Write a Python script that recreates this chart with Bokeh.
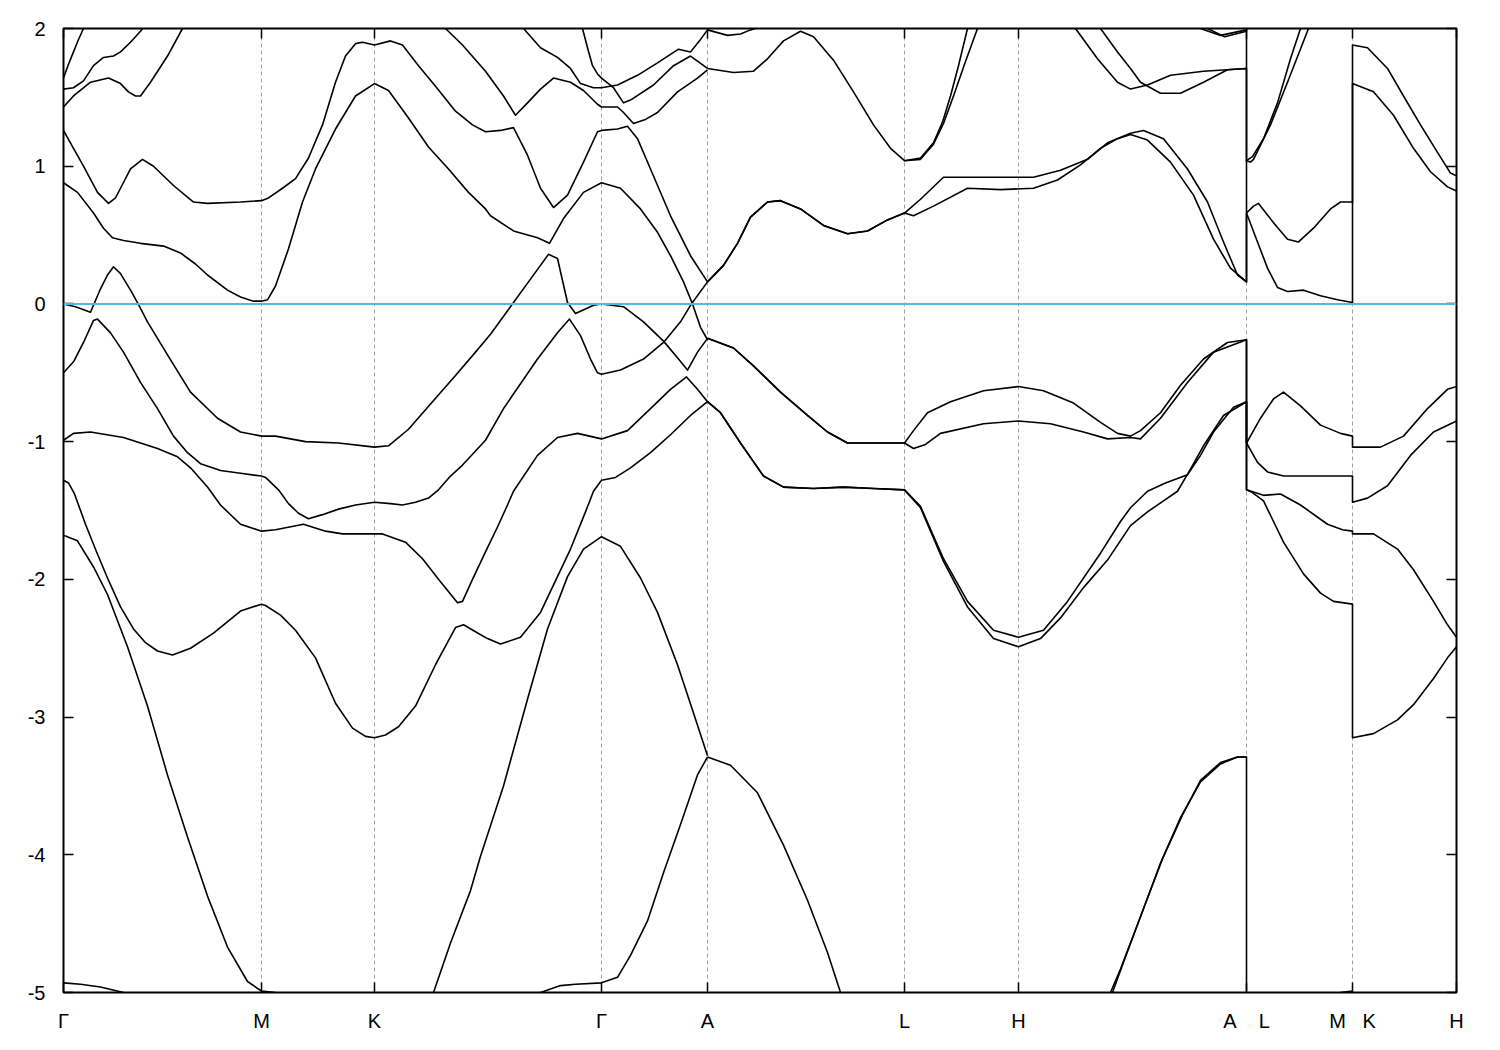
from bokeh.plotting import figure
from bokeh.models import FixedTicker, Span, LinearAxis, Range1d, CustomLabelingPolicy
from bokeh.embed import file_html
from bokeh.resources import INLINE

nan = float("nan")

# ---- axis data -------------------------------------------------------------
kpath_ticks = [0, 198, 311, 538, 644, 841, 955, 1183, 1289, 1393]
kpath_labels = ["Γ", "M", "K", "Γ", "A", "L", "H",
                "A\u00a0\u00a0\u00a0\u00a0L", "M\u00a0\u00a0\u00a0K", "H"]
energy_ticks = [-5, -4, -3, -2, -1, 0, 1, 2]
fermi_level = 0.0

# ---- bands: Gamma-M-K-Gamma-A part -----------------------------------------
k_L1 = [0, 17, 37, 60, nan, 477, 497, 512, 538, 554, 567, 584, 600, 617, 634, 644]
e_L1 = [-4.93, -4.94, -4.96, -5.0, nan, -5.0, -4.95, -4.94, -4.93, -4.89, -4.73, -4.48, -4.13, -3.78, -3.42, -3.29]

k_L2 = [0, 14, 30, 44, 64, 84, 104, 124, 144, 164, 184, 198, 205, 212, nan,
        370, 387, 407, 417, 440, 464, 484, 504, 520, 538, 557, 577, 594, 614, 630, 644]
e_L2 = [-1.68, -1.72, -1.91, -2.11, -2.49, -2.92, -3.42, -3.87, -4.30, -4.67, -4.92, -4.99, -4.995, -5.0, nan,
        -5.0, -4.64, -4.26, -4.01, -3.50, -2.87, -2.36, -1.98, -1.78, -1.69, -1.76, -1.99, -2.24, -2.62, -2.97, -3.28]

k_L3 = [0, 5, 11, 22, 33, 44, 57, 70, 82, 94, 109, 127, 150, 177, 198, 202, 217, 232, 252, 272,
        289, 302, 311, 322, 335, 352, 372, 392, 400, 412, 424, 437, 457, 477, 507, 522, 530, 538, 552, 567,
        587, 607, 627, 644]
e_L3 = [-1.28, -1.30, -1.38, -1.60, -1.80, -1.99, -2.20, -2.36, -2.46, -2.52, -2.55, -2.50, -2.39, -2.23, -2.18, -2.19, -2.26, -2.37, -2.57, -2.90,
        -3.08, -3.14, -3.15, -3.13, -3.07, -2.92, -2.62, -2.35, -2.33, -2.38, -2.43, -2.47, -2.42, -2.24, -1.78, -1.51, -1.36, -1.28, -1.26, -1.19,
        -1.08, -0.95, -0.81, -0.71]

k_L4 = [0, 10, 27, 60, 94, 114, 127, 144, 157, 177, 198, 212, 240, 262, 279, 311, 319, 342, 359, 375,
        394, 399, 409, 422, 434, 444, 450, 474, 494, 514, 538, 564, 587, 607, 623, 634, 644]
e_L4 = [-0.99, -0.94, -0.93, -0.97, -1.05, -1.11, -1.19, -1.33, -1.46, -1.60, -1.65, -1.64, -1.60, -1.65, -1.67, -1.67, -1.67, -1.73, -1.85, -2.00,
        -2.17, -2.16, -2.00, -1.80, -1.62, -1.46, -1.36, -1.10, -0.97, -0.94, -0.98, -0.92, -0.76, -0.62, -0.53, -0.62, -0.71]

k_L5 = [0, 10, 20, 30, 34, 47, 60, 77, 94, 110, 124, 137, 157, 177, 198, 202, 215, 225, 235, 245,
        259, 275, 292, 311, 327, 339, 352, 365, 375, 387, 399, 422, 440, 457, 474, 494, 506, 517, 527, 534,
        538, 557, 580, 600, 617, 627, 644]
e_L5 = [-0.50, -0.42, -0.28, -0.12, -0.11, -0.21, -0.35, -0.57, -0.76, -0.96, -1.08, -1.16, -1.21, -1.23, -1.25, -1.26, -1.35, -1.45, -1.52, -1.56,
        -1.53, -1.49, -1.46, -1.44, -1.45, -1.46, -1.44, -1.41, -1.35, -1.25, -1.17, -0.99, -0.76, -0.58, -0.40, -0.21, -0.11, -0.23, -0.40, -0.50,
        -0.51, -0.48, -0.40, -0.28, -0.13, -0.01, 0.16]

k_L6 = [0, 12, 27, 37, 44, 50, 57, 67, 74, 84, 104, 127, 154, 177, 198, 212, 242, 275, 311, 325,
        345, 369, 392, 412, 427, 450, 467, 485, 494, 504, 512, 530, 538, 560, 580, 600, 615, 624, 634, 644]
e_L6 = [0.00, -0.02, -0.06, 0.11, 0.21, 0.27, 0.22, 0.10, 0.01, -0.13, -0.37, -0.64, -0.83, -0.93, -0.96, -0.96, -1.00, -1.01, -1.04, -1.03,
        -0.91, -0.71, -0.52, -0.35, -0.22, 0.01, 0.18, 0.36, 0.33, 0.01, -0.07, -0.01, 0.00, -0.02, -0.13, -0.27, -0.40, -0.48, -0.35, -0.25]

k_L7 = [0, 14, 30, 40, 49, 60, 77, 100, 117, 132, 144, 164, 177, 190, 198, 204, 212, 225, 239, 252,
        272, 292, 311, 325, 345, 365, 385, 405, 422, 427, 450, 474, 486, 500, 520, 538, 557, 577, 594, 607,
        620, 629, 637, 644]
e_L7 = [0.88, 0.81, 0.66, 0.55, 0.48, 0.46, 0.44, 0.42, 0.37, 0.29, 0.21, 0.10, 0.05, 0.02, 0.02, 0.03, 0.13, 0.40, 0.74, 0.98,
        1.27, 1.51, 1.60, 1.55, 1.35, 1.14, 0.98, 0.81, 0.69, 0.64, 0.53, 0.48, 0.44, 0.62, 0.81, 0.88, 0.84, 0.69, 0.52, 0.35,
        0.16, 0.00, -0.17, -0.26]

k_L8 = [0, 10, 20, 34, 45, 52, 57, 67, 79, 90, 110, 130, 144, 177, 198, 205, 219, 232, 245, 259,
        272, 282, 292, 299, 311, 327, 339, 355, 372, 392, 409, 422, 437, 450, 464, 477, 490, 504, 520, 534,
        538, 554, 564, 574, 587, 607, 627, 644]
e_L8 = [1.26, 1.13, 1.00, 0.81, 0.73, 0.77, 0.84, 0.98, 1.05, 1.00, 0.86, 0.74, 0.73, 0.74, 0.75, 0.77, 0.84, 0.91, 1.06, 1.30,
        1.61, 1.80, 1.89, 1.90, 1.88, 1.91, 1.88, 1.73, 1.58, 1.40, 1.30, 1.25, 1.26, 1.28, 1.08, 0.84, 0.70, 0.79, 1.03, 1.25,
        1.26, 1.27, 1.29, 1.20, 0.98, 0.64, 0.35, 0.16]

k_L9 = [0, 10, 27, 45, 57, 65, 72, 77, 87, 104, 119, nan,
        382, 399, 422, 440, 452, 464, 477, 490, 507, 520, 534, 538, 554, 560, 570, 582, 594, 614, 634, 644]
e_L9 = [1.43, 1.51, 1.61, 1.64, 1.60, 1.54, 1.51, 1.51, 1.61, 1.80, 2.0, nan,
        2.0, 1.88, 1.69, 1.51, 1.37, 1.46, 1.56, 1.64, 1.61, 1.55, 1.45, 1.43, 1.43, 1.39, 1.31, 1.34, 1.39, 1.54, 1.64, 1.70]

k_L10 = [0, 10, 20, 30, 40, 50, 57, 67, 77, 79, nan,
         460, 477, 494, 507, 517, 530, 538, 554, 574, 594, 615, 627, 637, 644]
e_L10 = [1.56, 1.57, 1.62, 1.73, 1.79, 1.80, 1.83, 1.90, 1.98, 2.0, nan,
         2.0, 1.86, 1.79, 1.71, 1.60, 1.57, 1.57, 1.59, 1.66, 1.75, 1.85, 1.83, 1.92, 1.99]

k_L11 = [0, 5, 10, 15, 20, nan, 519, 524, 529, 534, 538, 550, 560, 567, 590, 610, 627, 644]
e_L11 = [1.64, 1.74, 1.83, 1.92, 2.0, nan, 2.0, 1.86, 1.73, 1.67, 1.64, 1.57, 1.46, 1.48, 1.59, 1.73, 1.80, 1.71]

# ---- bands: A-L-H-A|L-M|K-H part -------------------------------------------
k_R1 = [644, 667, 694, 720, 744, 764, 777, nan, 1047, 1057, 1077, 1097, 1117, 1137, 1157, 1174, 1183, 1183]
e_R1 = [-3.29, -3.35, -3.55, -3.93, -4.33, -4.71, -5.0, nan, -5.0, -4.83, -4.45, -4.06, -3.73, -3.47, -3.34, -3.29, -3.29, -5.0]

k_R2 = [1049, 1059, 1079, 1099, 1119, 1137, 1157, 1174, 1183, nan, 1277, 1289, 1289]
e_R2 = [-5.0, -4.80, -4.41, -4.03, -3.71, -3.46, -3.33, -3.29, -3.29, nan, -5.0, -4.99, -5.0]

k_R3 = [644, 657, 677, 700, 720, 750, 780, 810, 841, 857, 880, 904, 930, 955, 977, 997, 1020, 1044, 1067, 1084,
        1100, 1114, 1127, 1140, 1160, 1183, 1183, 1189, 1200, 1220, 1240, 1257, 1270, 1289, 1289, 1310, 1334, 1350, 1370, 1384,
        1393]
e_R3 = [-0.71, -0.79, -1.01, -1.25, -1.33, -1.34, -1.33, -1.34, -1.35, -1.48, -1.87, -2.20, -2.43, -2.49, -2.43, -2.28, -2.06, -1.86, -1.61, -1.51,
        -1.43, -1.36, -1.20, -1.03, -0.81, -0.71, -1.35, -1.37, -1.43, -1.73, -1.96, -2.10, -2.16, -2.18, -3.15, -3.12, -3.02, -2.91, -2.72, -2.57,
        -2.49]

k_R4 = [644, 657, 677, 700, 720, 750, 780, 810, 841, 857, 880, 904, 930, 955, 980, 1004, 1037, 1057, 1067, 1084,
        1102, 1124, 1137, 1150, 1170, 1183, 1183, 1200, 1217, 1237, 1264, 1279, 1289, 1289, 1310, 1334, 1350, 1370, 1384, 1393]
e_R4 = [-0.71, -0.79, -1.01, -1.25, -1.33, -1.34, -1.33, -1.34, -1.35, -1.47, -1.85, -2.16, -2.37, -2.42, -2.37, -2.16, -1.81, -1.58, -1.48, -1.36,
        -1.30, -1.24, -1.10, -0.93, -0.75, -0.71, -1.35, -1.39, -1.38, -1.46, -1.60, -1.64, -1.65, -1.67, -1.67, -1.78, -1.93, -2.16, -2.33, -2.42]

k_R5 = [644, 670, 690, 717, 744, 764, 784, 810, 841, 850, 862, 877, 920, 955, 987, 1020, 1044, 1067, 1077, 1097,
        1124, 1150, 1183, 1183, 1194, 1204, 1220, 1257, 1289, 1289, 1304, 1324, 1347, 1370, 1393]
e_R5 = [-0.25, -0.32, -0.45, -0.64, -0.81, -0.93, -1.01, -1.01, -1.01, -1.05, -1.02, -0.94, -0.87, -0.85, -0.87, -0.93, -0.98, -0.97, -0.98, -0.83,
        -0.57, -0.35, -0.26, -1.01, -1.15, -1.22, -1.25, -1.25, -1.25, -1.44, -1.41, -1.32, -1.10, -0.93, -0.85]

k_R6 = [644, 670, 690, 717, 744, 764, 784, 810, 841, 850, 864, 887, 920, 955, 980, 1010, 1037, 1054, 1067, 1077,
        1097, 1117, 1140, 1164, 1183, 1183, 1197, 1210, 1220, 1237, 1257, 1277, 1289, 1289, 1317, 1340, 1364, 1384, 1393]
e_R6 = [-0.25, -0.32, -0.45, -0.64, -0.81, -0.93, -1.01, -1.01, -1.01, -0.92, -0.79, -0.71, -0.63, -0.60, -0.63, -0.72, -0.86, -0.94, -0.96, -0.92,
        -0.79, -0.59, -0.40, -0.28, -0.26, -1.01, -0.83, -0.69, -0.64, -0.74, -0.88, -0.94, -0.96, -1.04, -1.04, -0.96, -0.76, -0.62, -0.60]

k_R7 = [644, 660, 674, 687, 704, 717, 737, 760, 784, 804, 824, 841, 850, 870, 904, 937, 970, 994, 1017, 1037,
        1054, 1067, 1084, 1107, 1130, 1150, 1167, 1183, 1183, 1194, 1204, 1214, 1224, 1240, 1257, 1274, 1289, 1289, 1310, 1330,
        1350, 1367, 1384, 1393]
e_R7 = [0.16, 0.28, 0.44, 0.63, 0.74, 0.75, 0.69, 0.57, 0.51, 0.53, 0.61, 0.66, 0.64, 0.71, 0.84, 0.83, 0.84, 0.90, 1.01, 1.13,
        1.20, 1.23, 1.19, 1.03, 0.79, 0.47, 0.26, 0.16, 0.66, 0.45, 0.26, 0.12, 0.09, 0.10, 0.06, 0.03, 0.01, 1.60, 1.54, 1.37,
        1.13, 0.96, 0.85, 0.82]

k_R8 = [644, 660, 674, 687, 704, 717, 737, 760, 784, 804, 824, 841, 857, 880, 930, 970, 997, 1024, 1044, 1067,
        1080, 1100, 1124, 1144, 1160, 1174, 1183, 1183, 1183, 1190, 1195, 1210, 1224, 1235, 1250, 1267, 1277, 1289, 1289, 1304,
        1324, 1340, 1357, 1374, 1387, 1393]
e_R8 = [0.16, 0.28, 0.44, 0.63, 0.74, 0.75, 0.69, 0.57, 0.51, 0.53, 0.61, 0.66, 0.76, 0.92, 0.92, 0.92, 0.97, 1.05, 1.17, 1.24,
        1.26, 1.20, 0.98, 0.74, 0.45, 0.21, 0.16, 1.04, 0.66, 0.71, 0.73, 0.59, 0.47, 0.45, 0.55, 0.69, 0.74, 0.74, 1.88, 1.86,
        1.71, 1.51, 1.30, 1.10, 0.95, 0.93]

k_R9 = [644, 670, 690, 704, 720, 737, 750, 770, 790, 810, 827, 841, 857, 870, 879, 887, 895, 904, nan,
        1037, 1054, 1067, 1077, 1097, 1117, 1140, 1164, 1183, 1183, 1189, 1200, 1214, 1227, 1237]
e_R9 = [1.71, 1.68, 1.69, 1.78, 1.91, 1.98, 1.94, 1.77, 1.54, 1.30, 1.13, 1.04, 1.06, 1.17, 1.32, 1.51, 1.73, 2.0, nan,
        2.0, 1.83, 1.71, 1.61, 1.53, 1.53, 1.61, 1.70, 1.71, 1.04, 1.07, 1.20, 1.46, 1.78, 2.0]

k_R10 = [841, 857, 870, 880, 890, 902, 914, nan,
         1012, 1034, 1054, 1067, 1084, 1107, 1140, 1183, 1183, 1187, 1190, 1207, 1224, 1245]
e_R10 = [1.04, 1.05, 1.16, 1.31, 1.51, 1.76, 2.0, nan,
         2.0, 1.78, 1.61, 1.56, 1.59, 1.66, 1.69, 1.71, 1.04, 1.03, 1.05, 1.30, 1.61, 2.0]

k_R11 = [644, 664, 677, 687, 692, nan, 1137, 1157, 1183, 1183]
e_R11 = [1.99, 1.95, 1.96, 1.99, 2.0, nan, 2.0, 1.95, 1.99, 1.71]

k_R12 = [1144, 1161, 1183, 1183]
e_R12 = [2.0, 1.94, 1.98, 2.0]

bands = [(k_L1, e_L1), (k_L2, e_L2), (k_L3, e_L3), (k_L4, e_L4), (k_L5, e_L5), (k_L6, e_L6),
         (k_L7, e_L7), (k_L8, e_L8), (k_L9, e_L9), (k_L10, e_L10), (k_L11, e_L11),
         (k_R1, e_R1), (k_R2, e_R2), (k_R3, e_R3), (k_R4, e_R4), (k_R5, e_R5), (k_R6, e_R6),
         (k_R7, e_R7), (k_R8, e_R8), (k_R9, e_R9), (k_R10, e_R10), (k_R11, e_R11), (k_R12, e_R12)]

# ---- figure ----------------------------------------------------------------
FONT = "Liberation Sans"

p = figure(frame_width=1393, frame_height=964,
           x_range=Range1d(kpath_ticks[0], kpath_ticks[-1]),
           y_range=Range1d(energy_ticks[0], energy_ticks[-1]),
           output_backend="svg", toolbar_location=None,
           min_border_left=63, min_border_right=36, min_border_top=28, min_border_bottom=50,
           background_fill_color="white", border_fill_color="white")

p.outline_line_color = "black"
p.outline_line_width = 2

# grid: dashed verticals at high-symmetry points
p.ygrid.visible = False
p.xgrid.ticker = FixedTicker(ticks=kpath_ticks)
p.xgrid.grid_line_color = "#a0a0a0"
p.xgrid.grid_line_dash = "4 3"
p.xgrid.grid_line_width = 1

xt = FixedTicker(ticks=kpath_ticks)
yt = FixedTicker(ticks=energy_ticks)

xax = p.xaxis[0]
xax.ticker = xt
xax.major_label_overrides = {t: lab for t, lab in zip(kpath_ticks, kpath_labels)}
yax = p.yaxis[0]
yax.ticker = yt
yax.major_label_overrides = {t: str(t) for t in energy_ticks}

for ax in (xax, yax):
    ax.axis_line_color = None
    ax.major_tick_in = 10
    ax.major_tick_out = 0
    ax.major_tick_line_width = 1.5
    ax.major_tick_line_color = "black"
    ax.minor_tick_line_color = None
    ax.major_label_text_font = FONT
    ax.major_label_text_font_size = "20px"
    ax.major_label_text_color = "black"
xax.major_label_standoff = 17
yax.major_label_standoff = 18

# mirrored ticks (top and right) without labels
for ticker, side in ((xt, "above"), (yt, "right")):
    ax = LinearAxis(ticker=ticker, axis_line_color=None, major_tick_in=10, major_tick_out=0,
                    major_tick_line_width=1.5, major_tick_line_color="black",
                    minor_tick_line_color=None, major_label_standoff=0,
                    major_label_policy=CustomLabelingPolicy(code="return []"))
    p.add_layout(ax, side)

for kk, ee in bands:
    p.line(kk, ee, line_color="black", line_width=1.6, line_join="round")

p.add_layout(Span(location=fermi_level, dimension="width", line_color="#56b4e9", line_width=2))

open("out.html", "w").write(file_html(p, INLINE))
